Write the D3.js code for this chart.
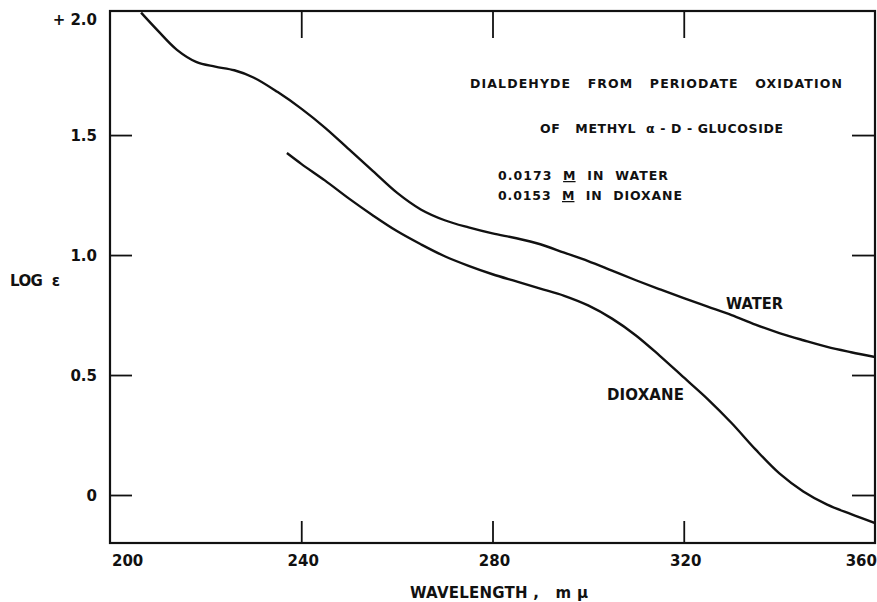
<!DOCTYPE html>
<html>
<head>
<meta charset="utf-8">
<script src="https://cdn.jsdelivr.net/npm/d3@7/dist/d3.min.js"></script>
<style>
  html, body { margin: 0; padding: 0; background: #fff; }
  svg { display: block; }
  text { font-family: "DejaVu Sans", sans-serif; font-weight: bold; fill: #111; }
</style>
</head>
<body>
<svg id="chart" width="877" height="602"></svg>
<script>
// ---- data ----
const xTicks = [200, 240, 280, 320, 360];
const xTickLabels = ["200", "240", "280", "320", "360"];
const yTicks = [0, 0.5, 1.0, 1.5, 2.0];
const yTickLabels = ["0", "0.5", "1.0", "1.5", "+ 2.0"];

const waterWavelength = [206.5, 210, 214, 218, 222, 226, 230, 235, 240, 245, 250, 255, 260, 265, 270, 275, 280, 285, 290, 295, 300, 305, 310, 315, 320, 325, 330, 335, 340, 345, 350, 355, 360];
const waterLogE       = [2.01, 1.935, 1.855, 1.805, 1.785, 1.77, 1.74, 1.68, 1.61, 1.53, 1.44, 1.35, 1.26, 1.19, 1.145, 1.115, 1.09, 1.07, 1.045, 1.01, 0.975, 0.935, 0.895, 0.857, 0.82, 0.785, 0.75, 0.71, 0.675, 0.645, 0.617, 0.595, 0.575];

const dioxaneWavelength = [237, 240, 245, 250, 255, 260, 265, 270, 275, 280, 285, 290, 295, 300, 305, 310, 315, 320, 325, 330, 335, 340, 345, 350, 355, 360];
const dioxaneLogE       = [1.425, 1.38, 1.31, 1.235, 1.165, 1.10, 1.045, 0.995, 0.955, 0.92, 0.89, 0.86, 0.83, 0.79, 0.735, 0.665, 0.58, 0.49, 0.40, 0.30, 0.19, 0.09, 0.015, -0.04, -0.08, -0.117];

// ---- layout ----
const svg = d3.select("#chart");
const L = 110, R = 875, T = 11, B = 543;
const x = d3.scaleLinear().domain([200, 360]).range([L, R]);
const y = d3.scaleLinear().domain([-0.2, 2.017]).range([B, T]);

svg.append("defs").append("clipPath").attr("id", "plotclip")
  .append("rect").attr("x", L).attr("y", T).attr("width", R - L).attr("height", B - T);

// inward ticks
const innerX = [240, 280, 320];
const innerY = [0, 0.5, 1.0, 1.5];
function styleAxis(g) { g.select(".domain").remove(); g.selectAll("text").remove(); g.selectAll("line").attr("stroke", "#111").attr("stroke-width", 1.8); }
svg.append("g").attr("transform", `translate(0,${B})`)
  .call(d3.axisBottom(x).tickValues(innerX).tickSize(-22).tickFormat("")).call(styleAxis);
svg.append("g").attr("transform", `translate(0,${T})`)
  .call(d3.axisTop(x).tickValues(innerX).tickSize(-27).tickFormat("")).call(styleAxis);
svg.append("g").attr("transform", `translate(${L},0)`)
  .call(d3.axisLeft(y).tickValues(innerY).tickSize(-22).tickFormat("")).call(styleAxis);
svg.append("g").attr("transform", `translate(${R},0)`)
  .call(d3.axisRight(y).tickValues(innerY).tickSize(-23).tickFormat("")).call(styleAxis);

// frame
svg.append("rect").attr("x", L).attr("y", T).attr("width", R - L).attr("height", B - T)
  .attr("fill", "none").attr("stroke", "#111").attr("stroke-width", 2.2);

// tick labels
xTicks.forEach((v, i) => {
  const last = i === xTicks.length - 1, first = i === 0;
  svg.append("text")
    .attr("x", x(v) + 2)
    .attr("y", 566)
    .attr("text-anchor", first ? "start" : last ? "end" : "middle")
    .attr("font-size", 15)
    .text(xTickLabels[i]);
});
yTicks.forEach((v, i) => {
  svg.append("text")
    .attr("x", 97)
    .attr("y", i === yTicks.length - 1 ? 25 : y(v) + 5.5)
    .attr("text-anchor", "end")
    .attr("font-size", 15)
    .text(yTickLabels[i]);
});

// axis titles
svg.append("text").attr("x", 10).attr("y", 286).attr("font-size", 15)
  .attr("textLength", 50).attr("lengthAdjust", "spacing").attr("xml:space", "preserve").text("LOG  ε");
svg.append("text").attr("x", 410).attr("y", 598).attr("font-size", 15)
  .attr("textLength", 178).attr("lengthAdjust", "spacing")
  .attr("xml:space", "preserve").text("WAVELENGTH ,   m μ");

// curves
const line = d3.line().x(d => x(d[0])).y(d => y(d[1])).curve(d3.curveCatmullRom.alpha(0.5));
const plot = svg.append("g").attr("clip-path", "url(#plotclip)");
plot.append("path").datum(waterWavelength.map((w, i) => [w, waterLogE[i]]))
  .attr("d", line).attr("fill", "none").attr("stroke", "#111").attr("stroke-width", 2.4);
plot.append("path").datum(dioxaneWavelength.map((w, i) => [w, dioxaneLogE[i]]))
  .attr("d", line).attr("fill", "none").attr("stroke", "#111").attr("stroke-width", 2.4);

// curve labels
svg.append("text").attr("x", 726).attr("y", 309).attr("font-size", 15)
  .attr("textLength", 57).attr("lengthAdjust", "spacingAndGlyphs").text("WATER");
svg.append("text").attr("x", 607).attr("y", 400).attr("font-size", 15)
  .attr("textLength", 77).attr("lengthAdjust", "spacing").text("DIOXANE");

// annotation
svg.append("text").attr("x", 470).attr("y", 88).attr("font-size", 12.5)
  .attr("textLength", 372).attr("lengthAdjust", "spacing").attr("xml:space", "preserve")
  .text("DIALDEHYDE   FROM   PERIODATE   OXIDATION");
svg.append("text").attr("x", 540).attr("y", 133).attr("font-size", 12.5)
  .attr("textLength", 243).attr("lengthAdjust", "spacing").attr("xml:space", "preserve")
  .text("OF   METHYL  α - D - GLUCOSIDE");
function concLine(yy, conc, solvent, width) {
  const t = svg.append("text").attr("x", 498).attr("y", yy).attr("font-size", 12.5)
    .attr("textLength", width).attr("lengthAdjust", "spacing").attr("xml:space", "preserve");
  t.append("tspan").text(conc + "  ");
  t.append("tspan").attr("text-decoration", "underline").text("M");
  t.append("tspan").text("  IN  " + solvent);
}
concLine(180, "0.0173", "WATER", 170);
concLine(200, "0.0153", "DIOXANE", 184);
</script>
</body>
</html>
